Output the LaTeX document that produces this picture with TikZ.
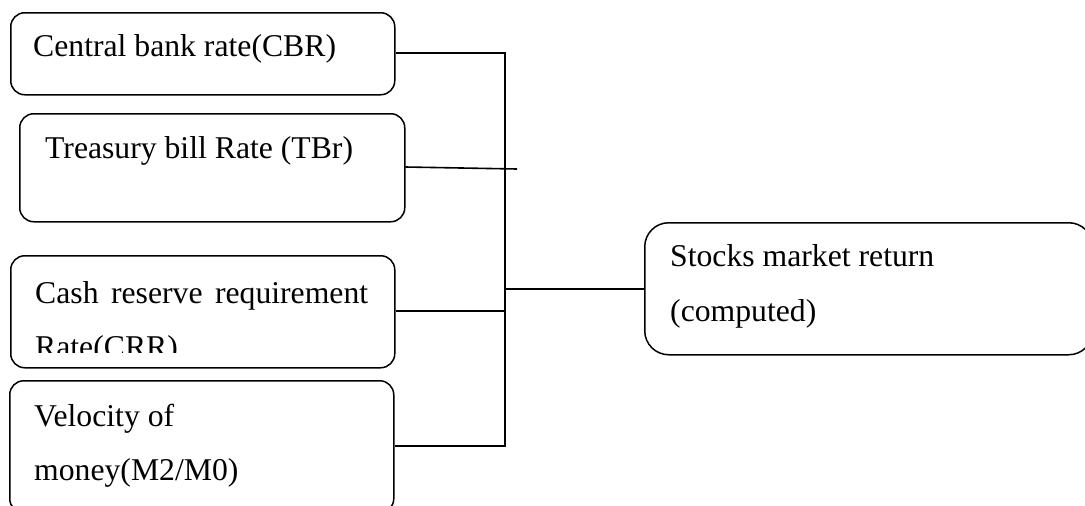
\documentclass[tikz,border=0pt]{standalone}
\usepackage{fontspec}
\setmainfont{Liberation Serif}
\begin{document}
\begin{tikzpicture}[x=1pt,y=-1pt,
  box/.style={draw, line width=1.5pt, rounded corners=14pt, inner sep=0pt, anchor=north west},
  bigbox/.style={box, rounded corners=24pt},
  lbl/.style={anchor=base west, inner sep=0pt, font=\fontsize{31.7}{38}\selectfont},
  conn/.style={line width=1.6pt}]
\useasboundingbox (0,0) rectangle (1085,506);
% boxes
\node[box, minimum width=384pt, minimum height=82pt] (b1) at (10,12) {};
\node[box, minimum width=385pt, minimum height=108pt] (b2) at (19,113) {};
\node[box, minimum width=384pt, minimum height=112pt] (b3) at (10,255) {};
\node[box, minimum width=384pt, minimum height=132pt] (b4) at (9,380) {};
\node[bigbox, minimum width=448pt, minimum height=132pt] (s) at (644,222) {};
% texts
\node[lbl] (t1) at (33,56) {Central bank rate(CBR)};
\node[lbl] (t2) at (45,158) {Treasury bill Rate (TBr)};
\node[lbl] (t3a) at (35,303) {\hbox to 333pt{Cash\hfil reserve\hfil requirement}};
\begin{scope}
  \clip (0,255) rectangle (400,352);
  \node[lbl] (t3b) at (35,357) {Rate(CRR)};
\end{scope}
\node[lbl] (t4a) at (34,426) {Velocity of};
\node[lbl] (t4b) at (34,480) {money(M2/M0)};
\node[lbl] (s1) at (670,266) {Stocks market return};
\node[lbl] (s2) at (670,321) {(computed)};
% junction coordinates
\coordinate (j1) at (505,53);
\coordinate (j2) at (517,169);
\coordinate (j3) at (505,311);
\coordinate (j4) at (505,446);
\coordinate (js) at (505,289);
% connectors
\draw[conn] (b1.east |- j1) -- (j1) -- (j4) -- (b4.east |- j4);
\draw[conn] (b2.east |- 0,167) -- (j2);
\draw[conn] (b3.east |- j3) -- (j3);
\draw[conn] (js) -- (s.west |- js);
\end{tikzpicture}
\end{document}
